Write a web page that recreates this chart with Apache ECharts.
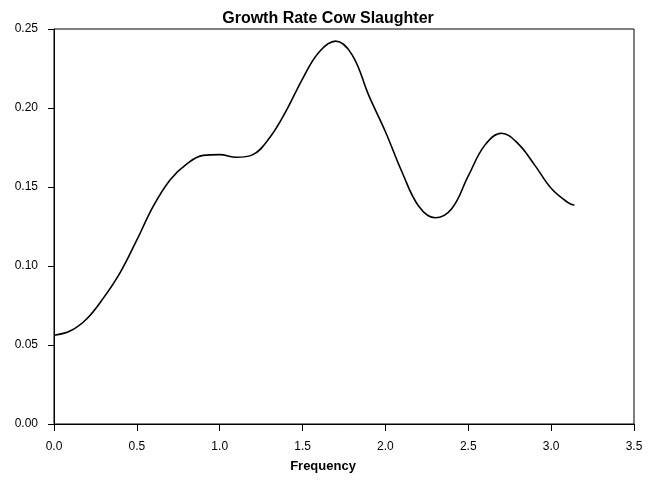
<!DOCTYPE html>
<html>
<head>
<meta charset="utf-8">
<script src="https://cdn.jsdelivr.net/npm/echarts@6/dist/echarts.min.js"></script>
<style>
  html, body { margin: 0; padding: 0; background: #fff; }
  #chart { width: 660px; height: 481px; }
</style>
</head>
<body>
<div id="chart"></div>
<script>
// spectrum
const frequency = [0.00, 0.10, 0.20, 0.30, 0.40, 0.50, 0.60, 0.70, 0.80, 0.90,
  1.00, 1.10, 1.20, 1.30, 1.40, 1.50, 1.60, 1.70, 1.80, 1.90,
  2.00, 2.10, 2.20, 2.30, 2.40, 2.50, 2.60, 2.70, 2.80, 2.90,
  3.00, 3.10, 3.14];
const growthRate = [0.0562, 0.0590, 0.0668, 0.0800, 0.0960, 0.1165, 0.1380, 0.1545, 0.1645, 0.1700,
  0.1705, 0.1688, 0.1705, 0.1810, 0.1980, 0.2185, 0.2355, 0.2423, 0.2335, 0.2078,
  0.1850, 0.1595, 0.1380, 0.1305, 0.1362, 0.1570, 0.1765, 0.1840, 0.1775, 0.1640,
  0.1492, 0.1403, 0.1385];
const xTicks = [0, 0.5, 1.0, 1.5, 2.0, 2.5, 3.0, 3.5];
const yTicks = [0, 0.05, 0.10, 0.15, 0.20, 0.25];

const chart = echarts.init(document.getElementById('chart'));

const axisText = { color: '#000', fontFamily: 'Liberation Sans, Arial', fontSize: 12 };

chart.setOption({
  animation: false,
  title: {
    text: 'Growth Rate Cow Slaughter',
    left: 323,
    top: 6,
    textAlign: 'center',
    textStyle: { fontFamily: 'Liberation Sans, Arial', fontSize: 16, fontWeight: 'bold', color: '#000' }
  },
  grid: {
    left: 54, right: 26, top: 29, bottom: 57,
    show: true, borderColor: '#000', borderWidth: 1
  },
  xAxis: {
    type: 'value',
    min: xTicks[0],
    max: xTicks[xTicks.length - 1],
    interval: 0.5,
    name: 'Frequency',
    nameLocation: 'middle',
    nameGap: 36,
    nameTextStyle: {
      fontFamily: 'Liberation Sans, Arial', fontSize: 13, fontWeight: 'bold', color: '#000',
      padding: [0, 42, 0, 0]
    },
    axisLine: { lineStyle: { color: '#000', width: 1 } },
    axisTick: { length: 7, lineStyle: { color: '#000' } },
    axisLabel: Object.assign({ margin: 17, formatter: v => v.toFixed(1) }, axisText),
    splitLine: { show: false }
  },
  yAxis: {
    type: 'value',
    min: yTicks[0],
    max: yTicks[yTicks.length - 1],
    interval: 0.05,
    axisLine: { show: true, lineStyle: { color: '#000', width: 1 } },
    axisTick: { show: true, length: 6, lineStyle: { color: '#000' } },
    axisLabel: Object.assign({ margin: 16, formatter: v => v.toFixed(2) }, axisText),
    splitLine: { show: false }
  },
  series: [{
    type: 'line',
    data: frequency.map((f, i) => [f, growthRate[i]]),
    smooth: 0.4,
    showSymbol: false,
    lineStyle: { color: '#000', width: 1.6 }
  }]
});
</script>
</body>
</html>
